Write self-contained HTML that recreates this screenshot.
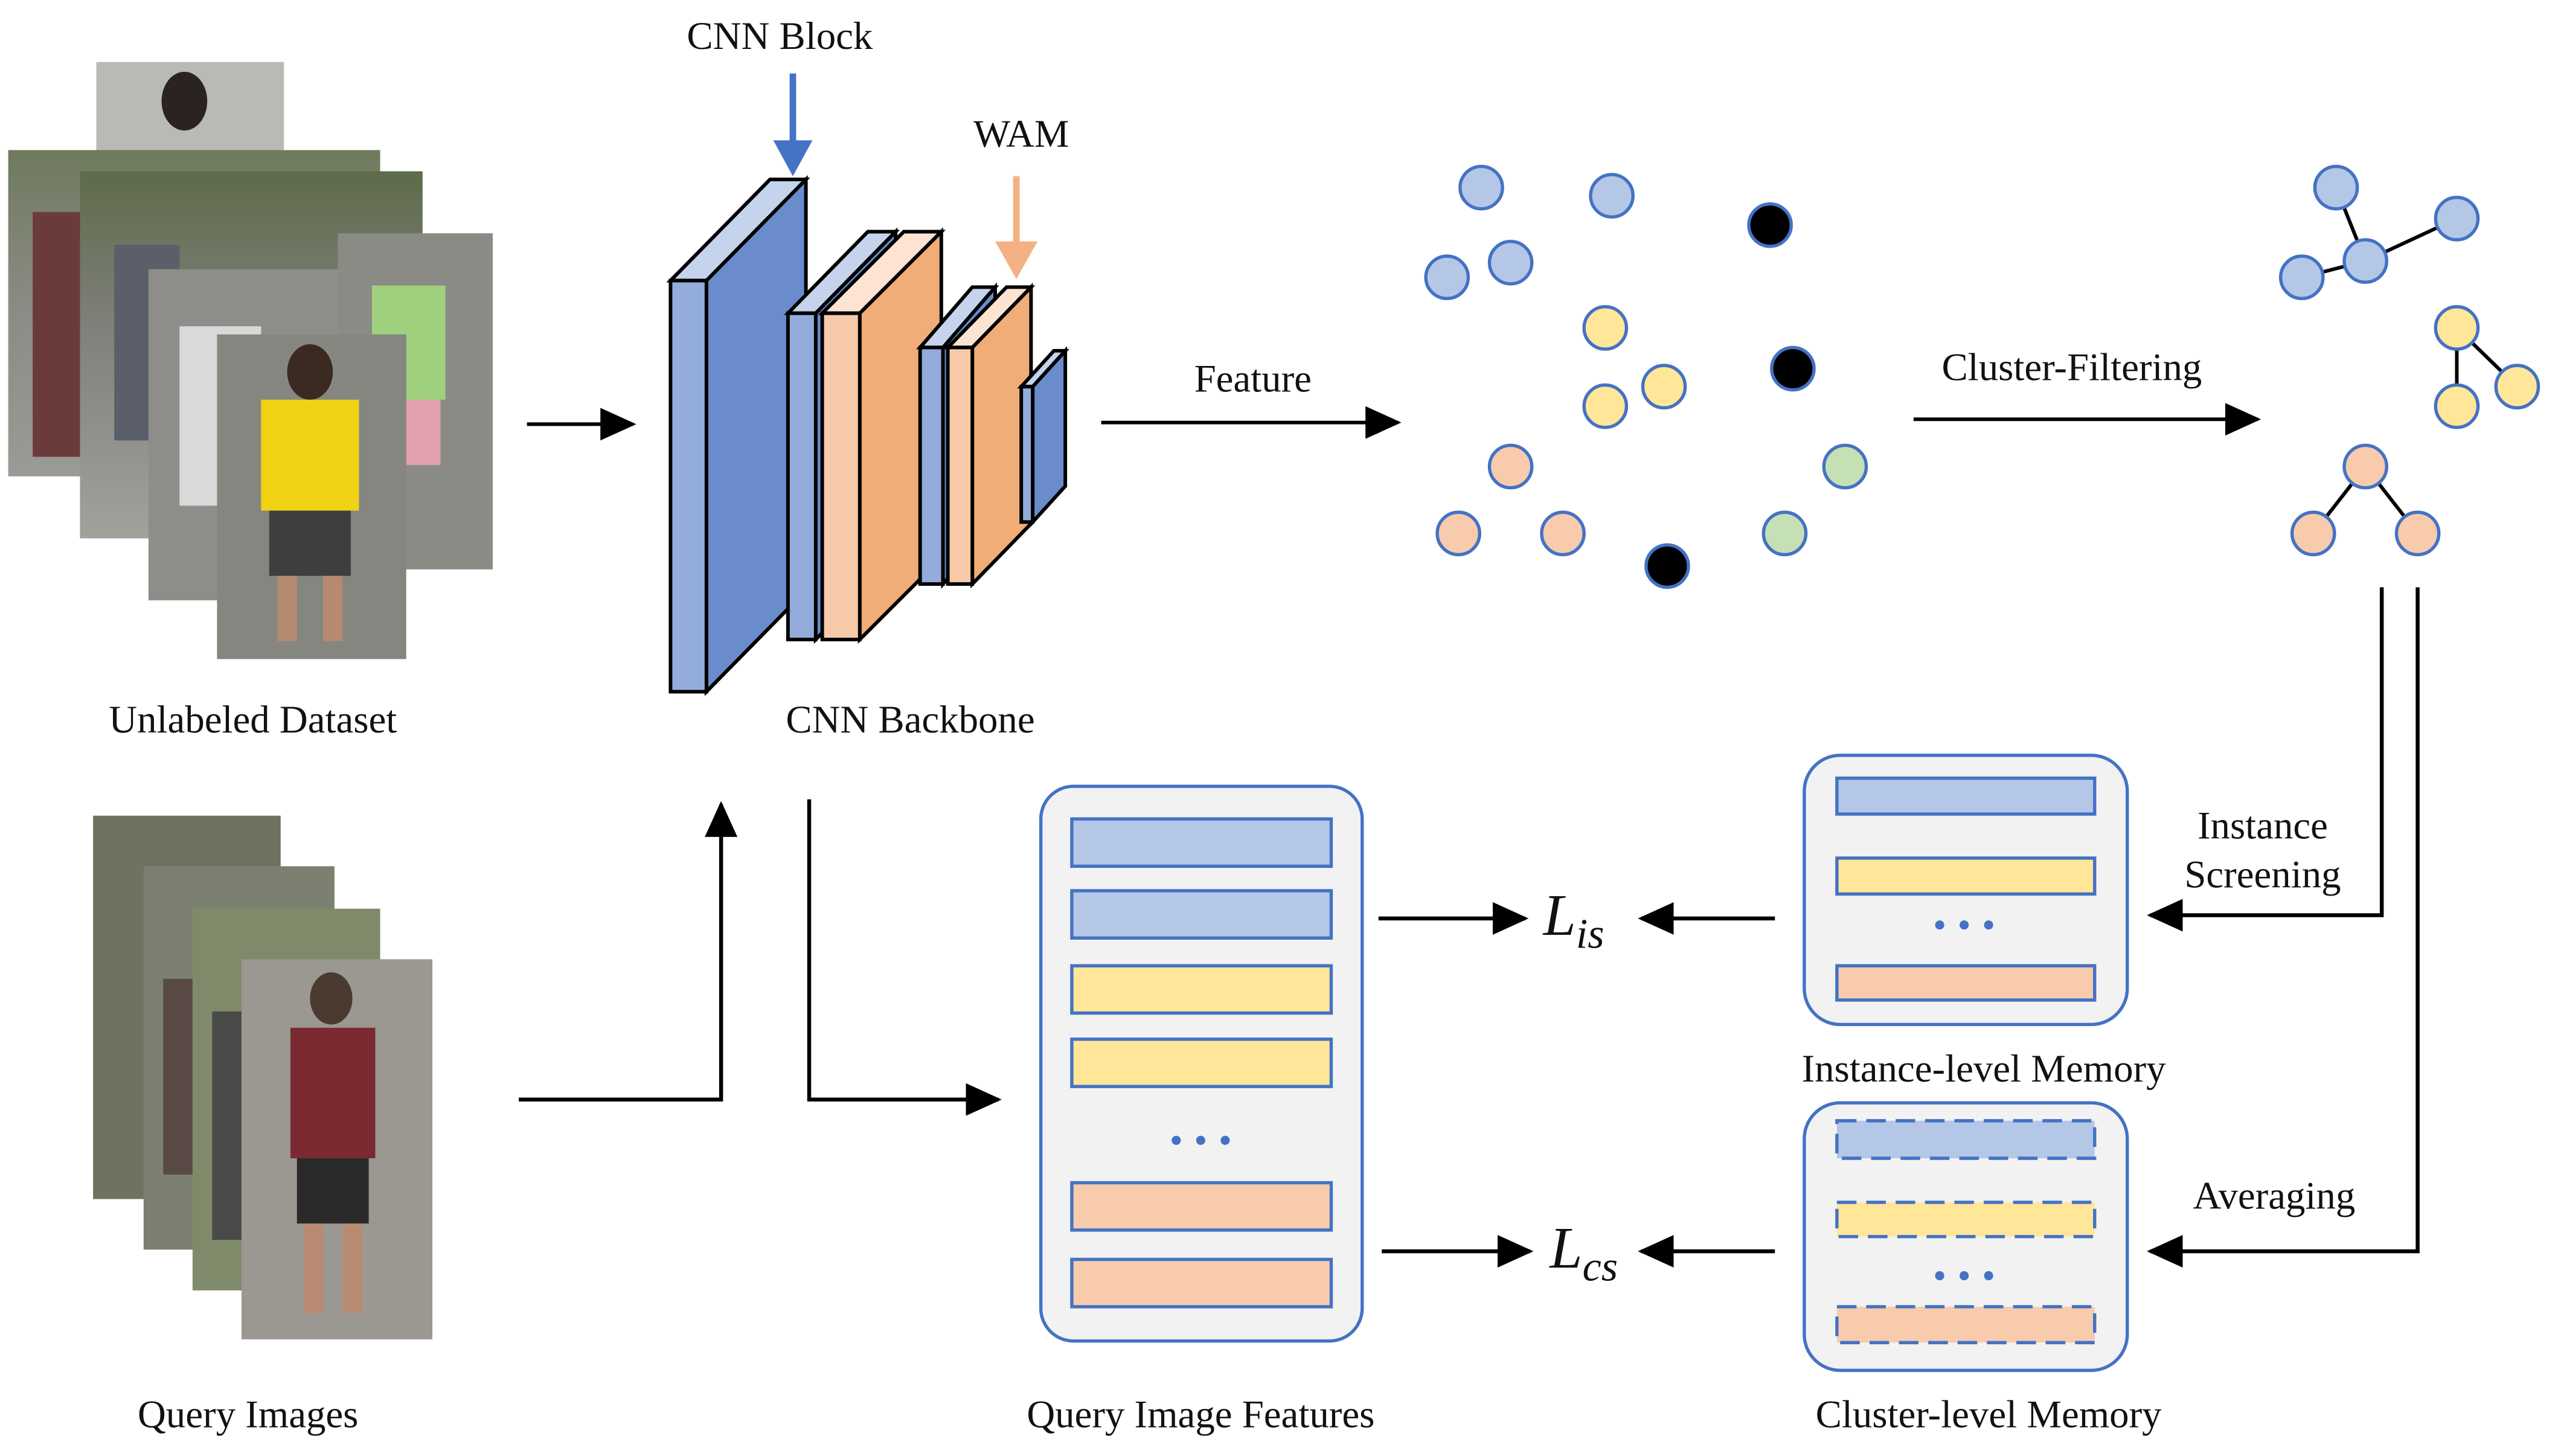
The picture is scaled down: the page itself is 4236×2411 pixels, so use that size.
<!DOCTYPE html>
<html><head><meta charset="utf-8"><style>
html,body{margin:0;padding:0;background:#fff}
svg{display:block}
</style></head><body>
<svg width="4236" height="2411" viewBox="0 0 1568 892.5" xmlns="http://www.w3.org/2000/svg" font-family="'Liberation Serif','DejaVu Serif',serif">
<defs>
<marker id="ahb" markerWidth="24" markerHeight="24" refX="20" refY="12" orient="auto" markerUnits="userSpaceOnUse" viewBox="0 0 24 24"><path d="M0,2 L22,12 L0,22 z" fill="#000"/></marker>
<linearGradient id="g1" x1="0" y1="0" x2="0" y2="1"><stop offset="0" stop-color="#6f7a5e"/><stop offset="0.5" stop-color="#8c8c86"/><stop offset="1" stop-color="#9a9a96"/></linearGradient>
<linearGradient id="g2" x1="0" y1="0" x2="0" y2="1"><stop offset="0" stop-color="#5e6b4a"/><stop offset="0.4" stop-color="#7d7f78"/><stop offset="1" stop-color="#a2a19c"/></linearGradient>
</defs>

<g stroke="none">
<rect x="59" y="38" width="115" height="56" fill="#b9bab5"/>
<ellipse cx="113" cy="62" rx="14" ry="18" fill="#2b2320"/>
<rect x="5" y="92" width="228" height="200" fill="url(#g1)"/>
<rect x="20" y="130" width="30" height="150" fill="#6b3a3a"/>
<rect x="49" y="105" width="210" height="225" fill="url(#g2)"/>
<rect x="70" y="150" width="40" height="120" fill="#5a5f6a"/>
<rect x="91" y="165" width="120" height="203" fill="#8f8d89"/>
<rect x="110" y="200" width="50" height="110" fill="#d9d9d9"/>
<rect x="207" y="143" width="95" height="206" fill="#8a8b84"/>
<rect x="228" y="175" width="45" height="70" fill="#9fd07e"/>
<rect x="230" y="245" width="40" height="40" fill="#e3a0ad"/>
<rect x="133" y="205" width="116" height="199" fill="#868680"/>
<ellipse cx="190" cy="228" rx="14" ry="17" fill="#3a2a22"/>
<rect x="160" y="245" width="60" height="68" fill="#f0d214"/>
<rect x="165" y="313" width="50" height="40" fill="#3e3e3e"/>
<rect x="170" y="353" width="12" height="40" fill="#b58a70"/>
<rect x="198" y="353" width="12" height="40" fill="#b58a70"/>
</g>

<g>
<rect x="57" y="500" width="115" height="235" fill="#6e7360"/>
<rect x="88" y="531" width="117" height="235" fill="#7c8070"/>
<rect x="100" y="600" width="40" height="120" fill="#5a4a45"/>
<rect x="118" y="557" width="115" height="234" fill="#7f8a6a"/>
<rect x="130" y="620" width="40" height="140" fill="#4a4a48"/>
<rect x="148" y="588" width="117" height="233" fill="#9a9890"/>
<ellipse cx="203" cy="612" rx="13" ry="16" fill="#4a3a30"/>
<rect x="178" y="630" width="52" height="80" fill="#7a2a30"/>
<rect x="182" y="710" width="44" height="40" fill="#2a2a2a"/>
<rect x="186" y="750" width="12" height="55" fill="#b88a72"/>
<rect x="210" y="750" width="12" height="55" fill="#b88a72"/>
</g>

<g stroke="#000" stroke-width="2.2" stroke-linejoin="miter">
<polygon points="433,172 494,110 494,362 433,424" fill="#6a8ccc"/>
<polygon points="411,172 472,110 494,110 433,172" fill="#c5d3ec"/>
<rect x="411" y="172" width="22" height="252" fill="#93acdc"/>
<polygon points="500,192 549,142 549,342 500,392" fill="#6a8ccc"/>
<polygon points="483,192 532,142 549,142 500,192" fill="#c5d3ec"/>
<rect x="483" y="192" width="17" height="200" fill="#93acdc"/>
<polygon points="527,192 577,142 577,342 527,392" fill="#f0ad78"/>
<polygon points="504,192 554,142 577,142 527,192" fill="#fce3d2"/>
<rect x="504" y="192" width="23" height="200" fill="#f6caa9"/>
<polygon points="578,213 610,176 610,321 578,358" fill="#6a8ccc"/>
<polygon points="564,213 596,176 610,176 578,213" fill="#c5d3ec"/>
<rect x="564" y="213" width="14" height="145" fill="#93acdc"/>
<polygon points="596,213 632,176 632,321 596,358" fill="#f0ad78"/>
<polygon points="581,213 617,176 632,176 596,213" fill="#fce3d2"/>
<rect x="581" y="213" width="15" height="145" fill="#f6caa9"/>
<polygon points="633,237 653,215 653,298 633,320" fill="#6a8ccc"/>
<polygon points="626,237 646,215 653,215 633,237" fill="#c5d3ec"/>
<rect x="626" y="237" width="7" height="83" fill="#93acdc"/>
</g>
<line x1="486" y1="45" x2="486" y2="90" stroke="#4472c4" stroke-width="4"/>
<polygon points="474,86 498,86 486,108" fill="#4472c4"/>
<line x1="623" y1="108" x2="623" y2="152" stroke="#f4b183" stroke-width="4"/>
<polygon points="610,148 636,148 623,171" fill="#f4b183"/>

<g font-size="24" fill="#111" text-anchor="middle">
<text x="478" y="30">CNN Block</text>
<text x="626" y="90">WAM</text>
<text x="768" y="240">Feature</text>
<text x="1270" y="233">Cluster-Filtering</text>
<text x="155" y="449">Unlabeled Dataset</text>
<text x="558" y="449">CNN Backbone</text>
<text x="1387" y="514">Instance</text>
<text x="1387" y="544">Screening</text>
<text x="1394" y="741">Averaging</text>
<text x="1216" y="663">Instance-level Memory</text>
<text x="1219" y="875">Cluster-level Memory</text>
<text x="736" y="875">Query Image Features</text>
<text x="152" y="875">Query Images</text>
</g>

<g stroke="#000" stroke-width="2.2" fill="none">
<line x1="323" y1="260" x2="388" y2="260" marker-end="url(#ahb)"/>
<line x1="675" y1="259" x2="857" y2="259" marker-end="url(#ahb)"/>
<line x1="1173" y1="257" x2="1384" y2="257" marker-end="url(#ahb)"/>
</g>

<g stroke="#4472c4" stroke-width="2">
<circle cx="908" cy="115" r="13" fill="#b4c7e7"/>
<circle cx="988" cy="120" r="13" fill="#b4c7e7"/>
<circle cx="887" cy="170" r="13" fill="#b4c7e7"/>
<circle cx="926" cy="161" r="13" fill="#b4c7e7"/>
<circle cx="984" cy="201" r="13" fill="#ffe699"/>
<circle cx="1020" cy="237" r="13" fill="#ffe699"/>
<circle cx="984" cy="249" r="13" fill="#ffe699"/>
<circle cx="926" cy="286" r="13" fill="#f8cbad"/>
<circle cx="894" cy="327" r="13" fill="#f8cbad"/>
<circle cx="958" cy="327" r="13" fill="#f8cbad"/>
<circle cx="1131" cy="286" r="13" fill="#c5e0b4"/>
<circle cx="1094" cy="327" r="13" fill="#c5e0b4"/>
<circle cx="1085" cy="138" r="13" fill="#000"/>
<circle cx="1099" cy="226" r="13" fill="#000"/>
<circle cx="1022" cy="347" r="13" fill="#000"/>
</g>
<g stroke="#000" stroke-width="2.2">
<line x1="1432" y1="115" x2="1450" y2="160"/>
<line x1="1411" y1="170" x2="1450" y2="160"/>
<line x1="1450" y1="160" x2="1506" y2="134"/>
<line x1="1506" y1="201" x2="1543" y2="237"/>
<line x1="1506" y1="201" x2="1506" y2="249"/>
<line x1="1450" y1="286" x2="1418" y2="327"/>
<line x1="1450" y1="286" x2="1482" y2="327"/>
</g>
<g stroke="#4472c4" stroke-width="2">
<circle cx="1432" cy="115" r="13" fill="#b4c7e7"/>
<circle cx="1506" cy="134" r="13" fill="#b4c7e7"/>
<circle cx="1411" cy="170" r="13" fill="#b4c7e7"/>
<circle cx="1450" cy="160" r="13" fill="#b4c7e7"/>
<circle cx="1506" cy="201" r="13" fill="#ffe699"/>
<circle cx="1543" cy="237" r="13" fill="#ffe699"/>
<circle cx="1506" cy="249" r="13" fill="#ffe699"/>
<circle cx="1450" cy="286" r="13" fill="#f8cbad"/>
<circle cx="1418" cy="327" r="13" fill="#f8cbad"/>
<circle cx="1482" cy="327" r="13" fill="#f8cbad"/>
</g>

<g stroke="#000" stroke-width="2.4" fill="none">
<polyline points="318,674 442,674 442,493" marker-end="url(#ahb)"/>
<polyline points="496,490 496,674 612,674" marker-end="url(#ahb)"/>
<line x1="845" y1="563" x2="935" y2="563" marker-end="url(#ahb)"/>
<line x1="1088" y1="563" x2="1006" y2="563" marker-end="url(#ahb)"/>
<line x1="847" y1="767" x2="938" y2="767" marker-end="url(#ahb)"/>
<line x1="1088" y1="767" x2="1006" y2="767" marker-end="url(#ahb)"/>
<polyline points="1460,360 1460,561 1318,561" marker-end="url(#ahb)"/>
<polyline points="1482,360 1482,767 1318,767" marker-end="url(#ahb)"/>
</g>

<rect x="638" y="482" width="197" height="340" rx="20" fill="#f2f2f2" stroke="#4472c4" stroke-width="2"/>
<g stroke="#4472c4" stroke-width="2">
<rect x="657" y="502" width="159" height="29" fill="#b4c7e7"/>
<rect x="657" y="546" width="159" height="29" fill="#b4c7e7"/>
<rect x="657" y="592" width="159" height="29" fill="#ffe699"/>
<rect x="657" y="637" width="159" height="29" fill="#ffe699"/>
<rect x="657" y="725" width="159" height="29" fill="#f8cbad"/>
<rect x="657" y="772" width="159" height="29" fill="#f8cbad"/>
</g>
<g fill="#4472c4"><circle cx="721" cy="699" r="2.8"/><circle cx="736" cy="699" r="2.8"/><circle cx="751" cy="699" r="2.8"/></g>

<rect x="1106" y="463" width="198" height="165" rx="22" fill="#f2f2f2" stroke="#4472c4" stroke-width="2"/>
<g stroke="#4472c4" stroke-width="2">
<rect x="1126" y="477" width="158" height="22" fill="#b4c7e7"/>
<rect x="1126" y="526" width="158" height="22" fill="#ffe699"/>
<rect x="1126" y="592" width="158" height="21" fill="#f8cbad"/>
</g>
<g fill="#4472c4"><circle cx="1189" cy="567" r="2.8"/><circle cx="1204" cy="567" r="2.8"/><circle cx="1219" cy="567" r="2.8"/></g>

<rect x="1106" y="676" width="198" height="164" rx="22" fill="#f2f2f2" stroke="#4472c4" stroke-width="2"/>
<g stroke="#4472c4" stroke-width="2" stroke-dasharray="12,6">
<rect x="1126" y="687" width="158" height="23" fill="#b4c7e7"/>
<rect x="1126" y="737" width="158" height="21" fill="#ffe699"/>
<rect x="1126" y="801" width="158" height="22" fill="#f8cbad"/>
</g>
<g fill="#4472c4"><circle cx="1189" cy="782" r="2.8"/><circle cx="1204" cy="782" r="2.8"/><circle cx="1219" cy="782" r="2.8"/></g>

<text x="946" y="573" font-size="36" font-style="italic" fill="#111">L<tspan font-size="26" dy="8">is</tspan></text>
<text x="950" y="777" font-size="36" font-style="italic" fill="#111">L<tspan font-size="26" dy="8">cs</tspan></text>
</svg>
</body></html>
